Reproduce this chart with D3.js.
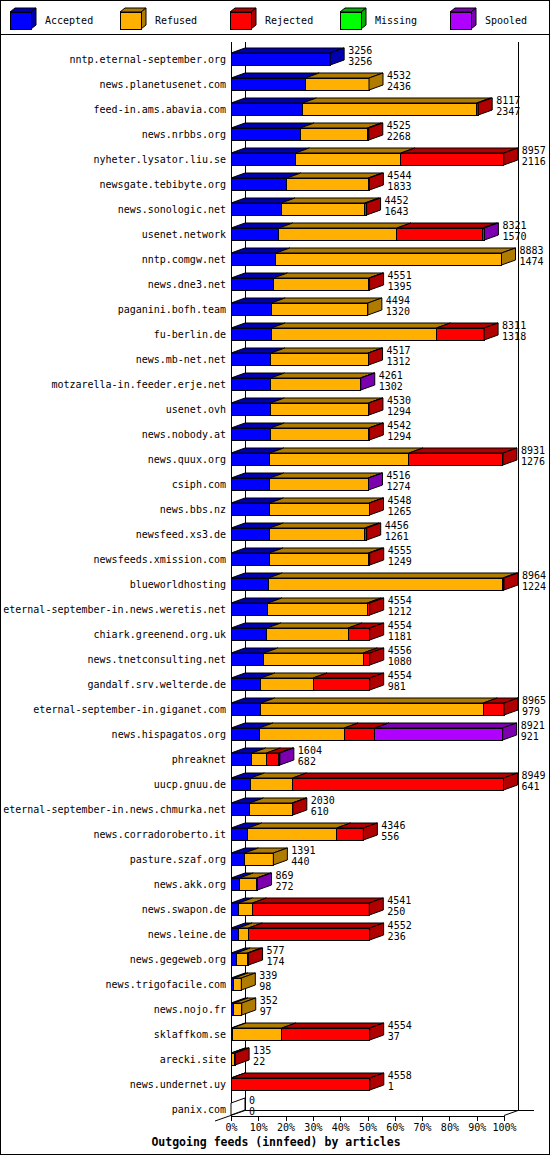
<!DOCTYPE html>
<html>
<head>
<meta charset="utf-8">
<script src="https://cdn.jsdelivr.net/npm/d3@7"></script>
<style>
  body { margin: 0; background: #fff; }
  text { font-family: 'DejaVu Sans Mono', monospace; }
</style>
</head>
<body>
<div id="chart"></div>
<script>
// Feeds, top to bottom
const feeds = [
  'nntp.eternal-september.org', 'news.planetusenet.com', 'feed-in.ams.abavia.com',
  'news.nrbbs.org', 'nyheter.lysator.liu.se', 'newsgate.tebibyte.org',
  'news.sonologic.net', 'usenet.network', 'nntp.comgw.net', 'news.dne3.net',
  'paganini.bofh.team', 'fu-berlin.de', 'news.mb-net.net',
  'motzarella-in.feeder.erje.net', 'usenet.ovh', 'news.nobody.at', 'news.quux.org',
  'csiph.com', 'news.bbs.nz', 'newsfeed.xs3.de', 'newsfeeds.xmission.com',
  'blueworldhosting', 'eternal-september-in.news.weretis.net', 'chiark.greenend.org.uk',
  'news.tnetconsulting.net', 'gandalf.srv.welterde.de', 'eternal-september-in.giganet.com',
  'news.hispagatos.org', 'phreaknet', 'uucp.gnuu.de',
  'eternal-september-in.news.chmurka.net', 'news.corradoroberto.it', 'pasture.szaf.org',
  'news.akk.org', 'news.swapon.de', 'news.leine.de', 'news.gegeweb.org',
  'news.trigofacile.com', 'news.nojo.fr', 'sklaffkom.se', 'arecki.site',
  'news.undernet.uy', 'panix.com'
]

// upper number next to each bar (offered)
const offered = [
  3256, 4532, 8117, 4525, 8957, 4544, 4452, 8321, 8883, 4551,
  4494, 8311, 4517, 4261, 4530, 4542, 8931, 4516, 4548, 4456,
  4555, 8964, 4554, 4554, 4556, 4554, 8965, 8921, 1604, 8949,
  2030, 4346, 1391, 869, 4541, 4552, 577, 339, 352, 4554,
  135, 4558, 0
]

// lower number next to each bar, also the blue segment
const accepted = [
  3256, 2436, 2347, 2268, 2116, 1833, 1643, 1570, 1474, 1395,
  1320, 1318, 1312, 1302, 1294, 1294, 1276, 1274, 1265, 1261,
  1249, 1224, 1212, 1181, 1080, 981, 979, 921, 682, 641,
  610, 556, 440, 272, 250, 236, 174, 98, 97, 37,
  22, 1, 0
]

const refused = [
  0, 2096, 5720, 2207, 3464, 2672, 2751, 3878, 7409, 3136,
  3174, 5429, 3190, 2949, 3221, 3233, 4568, 3227, 3273, 3135,
  3261, 7700, 3260, 2665, 3261, 1712, 7305, 2794, 482, 1380,
  1400, 2915, 951, 575, 452, 334, 363, 241, 255, 1634,
  95, 0, 0
]

const rejected = [
  0, 0, 50, 50, 3377, 39, 58, 2813, 0, 20,
  0, 1564, 15, 0, 15, 15, 3087, 0, 10, 60,
  45, 40, 82, 708, 215, 1861, 681, 1008, 408, 6928,
  20, 875, 0, 0, 3839, 3982, 40, 0, 0, 2883,
  18, 4557, 0
]

const missing = feeds.map(() => 0)

const spooled = [
  0, 0, 0, 0, 0, 0, 0, 60, 0, 0,
  0, 0, 0, 10, 0, 0, 0, 15, 0, 0,
  0, 0, 0, 0, 0, 0, 0, 4198, 32, 0,
  0, 0, 0, 22, 0, 0, 0, 0, 0, 0,
  0, 0, 0
]

const seriesNames = ['Accepted', 'Refused', 'Rejected', 'Missing', 'Spooled']
const seriesValues = [accepted, refused, rejected, missing, spooled]
const percentTicks = [0, 10, 20, 30, 40, 50, 60, 70, 80, 90, 100]
const title = 'Outgoing feeds (innfeed) by articles'

const colors = ['#0000ff', '#ffb000', '#ff0000', '#00ff00', '#b000ff']
const shades = ['#0000b0', '#b07c00', '#b00000', '#00b000', '#7c00b0']

const W = 550
const H = 1155
const depthX = 14
const depthY = 5
const barH = 12
const plotTop = 42
const floorY = 1115.5

const svg = d3
  .select('#chart')
  .append('svg')
  .attr('width', W)
  .attr('height', H)
  .attr('shape-rendering', 'crispEdges')

// outer frame and legend separator
svg.append('rect')
  .attr('x', 0.5).attr('y', 0.5)
  .attr('width', W - 1).attr('height', H - 1)
  .attr('fill', '#fff').attr('stroke', '#000')

svg.append('line')
  .attr('x1', 0).attr('x2', W)
  .attr('y1', 34.5).attr('y2', 34.5)
  .attr('stroke', '#000')

// legend
const legend = svg.append('g')
  .selectAll('g')
  .data(seriesNames)
  .enter().append('g')
  .attr('transform', (d, i) => 'translate(' + (10 + i * 110) + ',12)')

legend.append('path')
  .attr('d', 'M0,0 L5,-4 L26,-4 L21,0 Z')
  .attr('fill', (d, i) => shades[i])
  .attr('stroke', '#000')
  .attr('shape-rendering', 'auto')
legend.append('path')
  .attr('d', 'M21,0 L26,-4 L26,13 L21,17 Z')
  .attr('fill', (d, i) => shades[i])
  .attr('stroke', '#000')
  .attr('shape-rendering', 'auto')
legend.append('rect')
  .attr('x', 0).attr('y', 0)
  .attr('width', 21).attr('height', 17)
  .attr('fill', (d, i) => colors[i])
  .attr('stroke', '#000')
legend.append('text')
  .attr('x', 35)
  .attr('y', 12)
  .attr('font-size', 10)
  .text(d => d)

// scales
const xPct = d3.scaleLinear().domain([0, 100]).range([231, 504])
const maxTotal = d3.max(feeds, (f, i) => d3.sum(seriesValues, s => s[i]))
const xVal = v => xPct(v / maxTotal * 100)

const yPos = d3.scalePoint()
  .domain(feeds)
  .range([59, 59 + 25 * (feeds.length - 1)])

// walls
const frame = svg.append('g').attr('stroke', '#000').attr('fill', 'none')
frame.append('line')
  .attr('x1', xPct(0) + 0.5).attr('x2', xPct(0) + 0.5)
  .attr('y1', plotTop).attr('y2', floorY)
frame.append('line')
  .attr('x1', xPct(0) + depthX + 0.5).attr('x2', xPct(0) + depthX + 0.5)
  .attr('y1', plotTop).attr('y2', floorY - depthY)
frame.append('line')
  .attr('x1', xPct(100) + depthX + 0.5).attr('x2', xPct(100) + depthX + 0.5)
  .attr('y1', plotTop).attr('y2', floorY - depthY)
frame.append('line')
  .attr('x1', xPct(0) + depthX).attr('x2', 534)
  .attr('y1', floorY - depthY).attr('y2', floorY - depthY)
frame.append('line')
  .attr('x1', xPct(100)).attr('x2', xPct(100) + depthX)
  .attr('y1', floorY).attr('y2', floorY - depthY)
  .attr('shape-rendering', 'auto')
frame.append('line')
  .attr('x1', 215).attr('x2', xPct(0) + depthX)
  .attr('y1', floorY + 5.5).attr('y2', floorY - depthY)
  .attr('shape-rendering', 'auto')

// bars
const rows = feeds.map((name, i) => {
  let acc = 0
  const segs = seriesValues.map((s, k) => {
    const seg = { k: k, x0: xVal(acc), x1: xVal(acc + s[i]), v: s[i] }
    acc += s[i]
    return seg
  }).filter(s => s.v > 0)
  return { name: name, i: i, segs: segs, end: xVal(acc) }
})

const barG = svg.append('g')
  .selectAll('g')
  .data(rows)
  .enter().append('g')
  .attr('transform', d => 'translate(0,' + yPos(d.name) + ')')

barG.each(function (d) {
  const g = d3.select(this)
  const top = -barH / 2
  const bot = barH / 2
  d.segs.forEach(s => {
    g.append('rect')
      .attr('x', s.x0).attr('y', top)
      .attr('width', s.x1 - s.x0).attr('height', barH)
      .attr('fill', colors[s.k]).attr('stroke', '#000')
    g.append('path')
      .attr('d', 'M' + s.x0 + ',' + top + 'L' + (s.x0 + depthX) + ',' + (top - depthY) +
        'L' + (s.x1 + depthX) + ',' + (top - depthY) + 'L' + s.x1 + ',' + top + 'Z')
      .attr('fill', shades[s.k]).attr('stroke', '#000')
      .attr('shape-rendering', 'auto')
  })
  const last = d.segs.length ? shades[d.segs[d.segs.length - 1].k] : '#fff'
  g.append('path')
    .attr('d', 'M' + d.end + ',' + top + 'L' + (d.end + depthX) + ',' + (top - depthY) +
      'L' + (d.end + depthX) + ',' + (bot - depthY) + 'L' + d.end + ',' + bot + 'Z')
    .attr('fill', last).attr('stroke', '#000')
    .attr('shape-rendering', 'auto')

  g.append('text')
    .attr('x', d.end + depthX + 4)
    .attr('y', -9)
    .attr('dy', '0.35em')
    .attr('font-size', 10)
    .text(offered[d.i])
  g.append('text')
    .attr('x', d.end + depthX + 4)
    .attr('y', 2)
    .attr('dy', '0.35em')
    .attr('font-size', 10)
    .text(accepted[d.i])
})

// feed names
svg.append('g')
  .selectAll('text')
  .data(feeds)
  .enter().append('text')
  .attr('x', 226)
  .attr('y', d => yPos(d))
  .attr('dy', '0.35em')
  .attr('text-anchor', 'end')
  .attr('font-size', 10)
  .text(d => d)

// percent axis
const xAxis = d3.axisBottom(xPct)
  .tickValues(percentTicks)
  .tickFormat(d => d + '%')
  .tickSizeInner(5)
  .tickSizeOuter(0)
  .tickPadding(3)

svg.append('g')
  .attr('class', 'axis x-axis')
  .attr('transform', 'translate(0,' + floorY + ')')
  .call(xAxis)
  .call(g => g.selectAll('text')
    .attr('font-family', 'DejaVu Sans Mono')
    .attr('font-size', 10)
    .attr('fill', '#000'))

svg.append('text')
  .attr('x', 276)
  .attr('y', 1142)
  .attr('dy', '0.35em')
  .attr('text-anchor', 'middle')
  .attr('font-size', 11.5)
  .attr('font-weight', 'bold')
  .text(title)
</script>
</body>
</html>
